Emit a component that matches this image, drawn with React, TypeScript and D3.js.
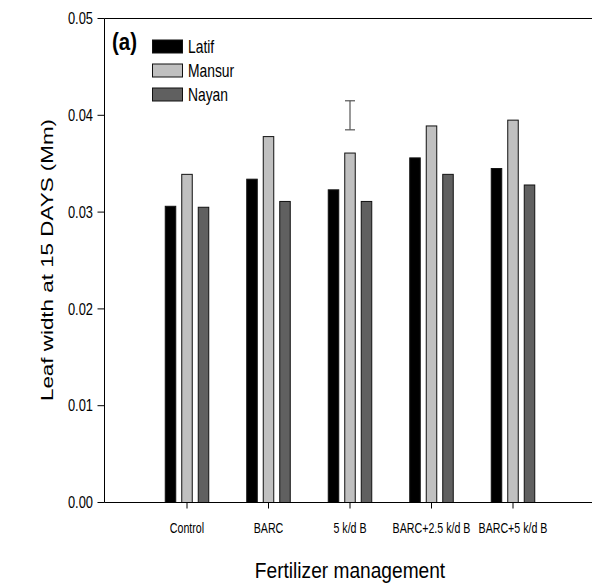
import React from "react";
import * as d3 from "d3";

const categories = ["Control", "BARC", "5 k/d B", "BARC+2.5 k/d B", "BARC+5 k/d B"];
const seriesNames = ["Latif", "Mansur", "Nayan"];
const latif = [0.0306, 0.0334, 0.0323, 0.0356, 0.0345];
const mansur = [0.0339, 0.0378, 0.0361, 0.0389, 0.0395];
const nayan = [0.0305, 0.0311, 0.0311, 0.0339, 0.0328];
const seriesValues = [latif, mansur, nayan];
const yTicks = [0, 0.01, 0.02, 0.03, 0.04, 0.05];
const errorBar = { category: "5 k/d B", low: 0.0385, high: 0.0415 };

const colors = ["#000000", "#c0c0c0", "#606060"];
const SANS = "'Liberation Sans', Arial, sans-serif";

function NText(props: {
  x: number;
  y: number;
  sx: number;
  size: number;
  anchor?: "start" | "middle" | "end";
  weight?: string;
  dy?: string;
  children: React.ReactNode;
}) {
  const { x, y, sx, size, anchor = "start", weight = "normal", dy, children } = props;
  return (
    <text
      transform={`translate(${x},${y}) scale(${sx},1)`}
      textAnchor={anchor}
      fontFamily={SANS}
      fontSize={size}
      fontWeight={weight}
      dy={dy}
    >
      {children}
    </text>
  );
}

export default function App() {
  const W = 592, H = 584;
  const axisX = 104.5;
  const x = d3.scalePoint<string>().domain(categories).range([187, 513]);
  const y = d3.scaleLinear().domain([0, 0.05]).range([502.5, 18.5]);
  const offset = 16.5;
  const bw = 10.5;

  return (
    <svg width={W} height={H} style={{ position: "absolute", left: 0, top: 0, background: "#fff" }}>
      {seriesValues.map((vals, si) =>
        vals.map((v, ci) => {
          const cx = (x(categories[ci]) as number) + (si - 1) * offset;
          return (
            <rect
              key={`${si}-${ci}`}
              x={cx - bw / 2}
              y={y(v)}
              width={bw}
              height={y(0) - y(v)}
              fill={colors[si]}
              stroke="#111"
              strokeWidth={1}
            />
          );
        })
      )}
      {(() => {
        const ex = x(errorBar.category) as number;
        return (
          <g stroke="#555" strokeWidth={1.2}>
            <line x1={ex} x2={ex} y1={y(errorBar.low)} y2={y(errorBar.high)} />
            <line x1={ex - 5} x2={ex + 5} y1={y(errorBar.low)} y2={y(errorBar.low)} />
            <line x1={ex - 5} x2={ex + 5} y1={y(errorBar.high)} y2={y(errorBar.high)} />
          </g>
        );
      })()}
      <line x1={axisX} x2={axisX} y1={y(0.05)} y2={y(0)} stroke="#000" strokeWidth={1} />
      <line x1={axisX} x2={W} y1={y(0)} y2={y(0)} stroke="#000" strokeWidth={1} />
      <line x1={axisX} x2={W} y1={y(0.05)} y2={y(0.05)} stroke="#000" strokeWidth={1} />
      {yTicks.map((t) => (
        <g key={t}>
          <line x1={axisX - 7} x2={axisX} y1={y(t)} y2={y(t)} stroke="#000" />
          <NText x={93} y={y(t)} dy="0.35em" anchor="end" size={16.5} sx={0.78}>
            {d3.format(".2f")(t)}
          </NText>
        </g>
      ))}
      {categories.map((c) => (
        <g key={c}>
          <line x1={x(c)} x2={x(c)} y1={y(0)} y2={y(0) + 6} stroke="#000" />
          <NText x={x(c) as number} y={533} anchor="middle" size={15} sx={0.71}>
            {c}
          </NText>
        </g>
      ))}
      <NText x={350} y={578} anchor="middle" size={22} sx={0.87}>
        Fertilizer management
      </NText>
      <text
        transform={`translate(53,260) rotate(-90) scale(1,0.7)`}
        textAnchor="middle"
        fontFamily={SANS}
        fontSize={22.4}
      >
        Leaf width at 15 DAYS (Mm)
      </text>
      <NText x={112} y={50} size={23} sx={0.89} weight="bold">
        (a)
      </NText>
      {seriesNames.map((s, i) => (
        <g key={s}>
          <rect x={152.5} y={40} width={30} height={13} transform={`translate(0,${i * 24})`} fill={colors[i]} stroke="#111" />
          <NText x={188} y={53 + i * 24} size={18} sx={0.77}>
            {s}
          </NText>
        </g>
      ))}
    </svg>
  );
}
